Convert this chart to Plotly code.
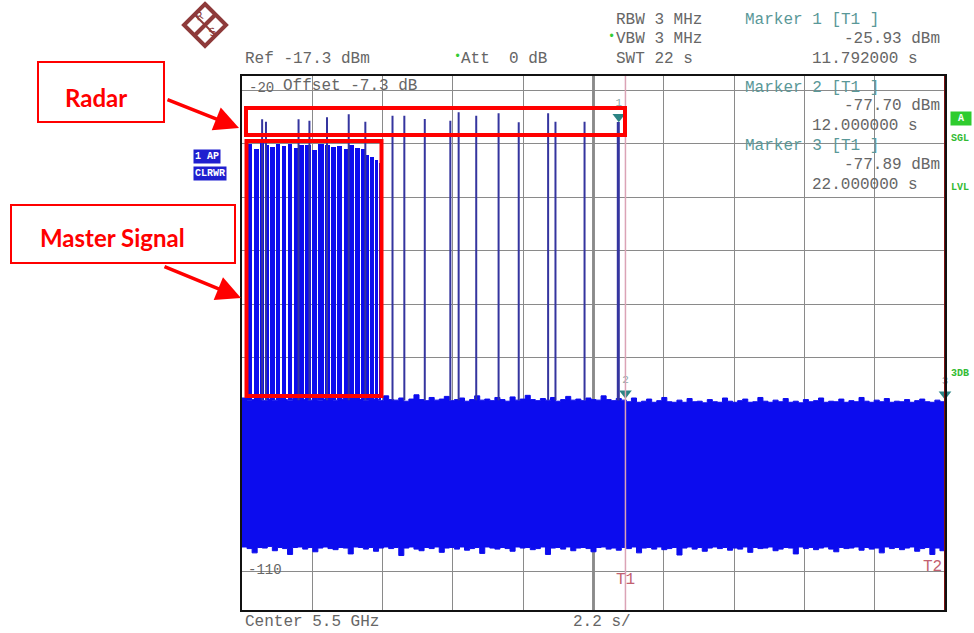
import numpy as np
import plotly.graph_objects as go

# ---------------- data ----------------
REF_LEVEL = -17.3          # dBm, top of screen
DB_RANGE = 100             # dB shown
SWEEP_TIME = 22.0          # s, zero span sweep

noise_top = [-77.6, -78.0, -77.9, -77.2, -78.1, -77.8, -78.0, -77.4, -77.9, -78.1,
             -77.7, -77.0, -77.9, -78.0, -77.5, -78.1, -77.8, -77.3, -78.0, -77.9,
             -77.1, -76.8, -77.6, -77.9, -78.0, -77.4, -77.8, -78.1, -77.2, -77.9,
             -78.0, -77.6, -78.2, -77.8, -77.0, -77.9, -78.1, -77.5, -78.0, -77.8,
             -77.3, -78.1, -77.9, -77.6, -78.2, -77.9, -77.2, -78.0, -77.8, -78.1,
             -77.5, -77.9, -78.2, -77.4, -78.0, -77.8, -77.1, -77.9, -78.1, -77.7,
             -78.0, -77.5, -78.2, -77.9, -77.3, -78.0, -77.8, -78.1, -77.6, -77.9,
             -78.0, -77.2, -77.9, -78.1, -77.7, -78.0,
             -78.3, -77.6, -78.4, -78.2, -77.8, -78.4, -78.1, -77.5, -78.3, -78.4,
             -78.0, -78.4, -77.7, -78.3, -78.2, -78.5, -77.9, -78.3, -78.4, -77.6,
             -78.2, -78.4, -78.1, -77.8, -78.4, -78.3, -77.5, -78.2, -78.4, -78.0,
             -78.3, -77.7, -78.4, -78.2, -78.5, -77.9, -78.3, -78.1, -77.6, -78.4,
             -78.2, -78.3, -77.8, -78.4, -78.1, -78.3, -77.5, -78.2, -78.4, -78.0,
             -78.3, -77.7, -78.4, -78.2, -78.3, -77.9, -78.4, -78.1, -77.8, -78.3,
             -78.4, -78.0, -78.3, -77.9]

noise_bottom = [-105.5, -105.8, -106.6, -105.6, -105.7, -105.4, -106.2, -105.6, -105.8, -106.9,
                -105.6, -105.5, -105.9, -105.6, -106.4, -105.7, -105.5, -105.8, -106.0, -105.6,
                -105.7, -106.8, -105.5, -105.6, -105.9, -105.6, -106.3, -105.7, -105.5, -105.8,
                -105.6, -107.1, -105.7, -105.5, -105.9, -106.2, -105.6, -105.8, -105.5, -106.5,
                -105.7, -105.6, -105.9, -105.5, -106.1, -105.8, -105.6, -106.7, -105.5, -105.7,
                -105.9, -105.6, -105.8, -106.3, -105.5, -105.7, -105.6, -106.0, -105.8, -105.5,
                -106.9, -105.7, -105.6, -105.9, -105.5, -106.2, -105.7, -105.6, -105.8, -106.4,
                -105.6, -105.5, -105.9, -105.7, -106.1, -105.6, -105.8, -105.5, -106.6, -105.7,
                -105.6, -105.9, -105.5, -106.0, -105.8, -105.6, -107.0, -105.7, -105.5, -105.9,
                -105.6, -106.3, -105.7, -105.5, -105.8, -105.6, -106.1, -105.7, -105.9, -105.5,
                -106.5, -105.6, -105.8, -105.7, -105.5, -106.2, -105.9, -105.6, -105.7, -106.8,
                -105.5, -105.8, -105.6, -106.0, -105.7, -105.5, -105.9, -106.4, -105.6, -105.8,
                -105.7, -105.5, -106.1, -105.6, -105.9, -105.7, -106.6, -105.5, -105.8, -105.6,
                -106.0, -105.7, -105.5, -106.3, -105.8, -105.6, -106.9, -105.7, -106.2, -107.3]

# radar pulses (time in s, peak level in dBm)
radar_times = [0.63, 0.75, 1.77, 2.11, 2.66, 3.34, 3.86, 4.71, 5.08, 5.72,
               6.52, 6.78, 7.33, 8.03, 8.66, 9.58, 9.81, 10.72, 11.76, 11.792]
radar_levels = [-25.41, -25.86, -25.41, -25.67, -25.04, -24.48, -25.86, -24.74, -24.74, -25.36,
                -25.67, -24.10, -24.74, -24.29, -25.97, -24.29, -25.86, -25.86, -25.93, -25.93]

# master signal bursts
master_start = 0.17
master_end = 4.36
master_gaps = [0.344, 0.551, 0.707, 0.864, 1.042, 1.221, 1.408, 1.596, 1.772, 1.950,
               2.169, 2.366, 2.576, 2.764, 2.952, 3.161, 3.336, 3.515, 3.703, 3.859,
               3.994, 4.141, 4.275]
master_levels = [-30.0, -31.0, -29.9, -30.2, -30.6, -30.1, -30.4, -30.0, -30.8, -30.3,
                 -30.2, -31.2, -30.1, -30.3, -30.6, -30.4, -31.0, -30.2, -30.7, -31.0,
                 -32.0, -32.4, -33.0, -33.5]

# markers
marker_names = ["1", "2", "3"]
marker_times = [11.792, 12.0, 22.0]
marker_levels = [-25.93, -77.70, -77.89]

# ---------------- geometry helpers ----------------
W, H = 974, 633
ML, MR, MT, MB = 242, 29, 76, 23
PW, PH = W - ML - MR, H - MT - MB


def px(x):
    return (x - ML) / PW


def py(y):
    return (H - MB - y) / PH


BLUE = "#0c0cee"
PULSE = "#35359f"
GRAY = "#666666"
TEAL = "#5a9898"
MONO = "Courier New, Liberation Mono, monospace"
RED = "#ff0000"

fig = go.Figure()

# noise floor band
t_noise = np.linspace(0, SWEEP_TIME, len(noise_top))
noise_base = -78.0
fig.add_trace(go.Scatter(x=t_noise, y=noise_bottom, mode="lines", line_shape="hv",
                         line=dict(color=BLUE, width=1), hoverinfo="skip"))
fig.add_trace(go.Scatter(x=t_noise, y=noise_top, mode="lines", fill="tonexty", line_shape="hv",
                         fillcolor=BLUE, line=dict(color=BLUE, width=1), hoverinfo="skip"))

# master signal bursts (bars between the gaps)
edges = [master_start] + master_gaps + [master_end]
gap_w = 0.035
b_start = [edges[i] + (gap_w / 2 if i > 0 else 0) for i in range(len(edges) - 1)]
b_end = [edges[i + 1] - (gap_w / 2 if i + 1 < len(edges) - 1 else 0) for i in range(len(edges) - 1)]
centers = [(a + b) / 2 for a, b in zip(b_start, b_end)]
widths = [b - a for a, b in zip(b_start, b_end)]
fig.add_trace(go.Bar(x=centers, y=[lv - noise_base for lv in master_levels], base=noise_base,
                     width=widths, marker=dict(color=BLUE, line=dict(width=0)),
                     hoverinfo="skip"))

# radar pulses
xs, ys = [], []
for t, lv in zip(radar_times, radar_levels):
    xs += [t, t, None]
    ys += [noise_base, lv, None]
fig.add_trace(go.Scatter(x=xs, y=ys, mode="lines", line=dict(color=PULSE, width=2),
                         hoverinfo="skip"))

# marker triangles
fig.add_trace(go.Scatter(x=marker_times, y=[lv + 1.0 for lv in marker_levels], mode="markers+text",
                         marker=dict(symbol="triangle-down", size=11, color="#2c8484"),
                         text=marker_names, textposition="top center",
                         textfont=dict(family=MONO, size=11, color="#8aa8a8"),
                         cliponaxis=False, hoverinfo="skip"))

shapes = []
# centre grid line
shapes.append(dict(type="line", xref="x", yref="paper", x0=SWEEP_TIME / 2, x1=SWEEP_TIME / 2,
                   y0=0, y1=1, line=dict(color="#222222", width=2), layer="below"))
# T1 line
shapes.append(dict(type="line", xref="x", yref="paper", x0=marker_times[1], x1=marker_times[1],
                   y0=0, y1=1, line=dict(color="#dba3b6", width=1.5), layer="above"))
# right frame (T2)
shapes.append(dict(type="line", xref="x", yref="paper", x0=SWEEP_TIME, x1=SWEEP_TIME,
                   y0=0, y1=1, line=dict(color="#7a1010", width=2), layer="above"))

# red highlight rectangles
shapes.append(dict(type="rect", xref="paper", yref="paper",
                   x0=px(246), x1=px(625), y0=py(108), y1=py(135),
                   line=dict(color=RED, width=4), layer="above"))
shapes.append(dict(type="rect", xref="paper", yref="paper",
                   x0=px(246.5), x1=px(381.5), y0=py(141), y1=py(396),
                   line=dict(color=RED, width=4), layer="above"))
# label boxes
shapes.append(dict(type="rect", xref="paper", yref="paper",
                   x0=px(38), x1=px(164), y0=py(62), y1=py(122),
                   line=dict(color=RED, width=2), fillcolor="white", layer="above"))
shapes.append(dict(type="rect", xref="paper", yref="paper",
                   x0=px(11), x1=px(235), y0=py(205), y1=py(263),
                   line=dict(color=RED, width=2), fillcolor="white", layer="above"))

# R&S logo
cx, cy, hs = 205, 25, 21
shapes.append(dict(type="path", xref="paper", yref="paper",
                   path=f"M {px(cx)} {py(cy - hs)} L {px(cx + hs)} {py(cy)} L {px(cx)} {py(cy + hs)} L {px(cx - hs)} {py(cy)} Z",
                   line=dict(color="#8e3a3a", width=4), fillcolor="white", layer="above"))
shapes.append(dict(type="line", xref="paper", yref="paper",
                   x0=px(cx + hs / 2), y0=py(cy - hs / 2), x1=px(cx - hs / 2), y1=py(cy + hs / 2),
                   line=dict(color="#8e3a3a", width=4), layer="above"))
shapes.append(dict(type="line", xref="paper", yref="paper",
                   x0=px(cx - hs / 2), y0=py(cy - hs / 2), x1=px(cx + hs / 2), y1=py(cy + hs / 2),
                   line=dict(color="#8e3a3a", width=2), layer="above"))

ann = []


def txt(x, y, s, color=GRAY, size=16, anchor="left", family=MONO, **kw):
    ann.append(dict(x=px(x), y=py(y), xref="paper", yref="paper", text=s, showarrow=False,
                    xanchor=anchor, yanchor="middle",
                    font=dict(family=family, size=size, color=color), **kw))


# header texts
txt(243, 59, "Ref -17.3 dBm")
txt(452, 57, "•", color="#33cc33", size=12)
txt(459, 59, "Att  0 dB")
txt(614, 20, "RBW 3 MHz")
txt(606, 37, "•", color="#33cc33", size=12)
txt(614, 39, "VBW 3 MHz")
txt(614, 59, "SWT 22 s")
txt(743, 20, "Marker 1 [T1 ]", color=TEAL)
txt(942, 39, "-25.93 dBm", anchor="right")
txt(920, 59, "11.792000 s", anchor="right")
# in-plot marker info
txt(743, 88, "Marker 2 [T1 ]", color=TEAL)
txt(942, 106, "-77.70 dBm", anchor="right")
txt(920, 126, "12.000000 s", anchor="right")
txt(743, 146, "Marker 3 [T1 ]", color=TEAL)
txt(942, 165, "-77.89 dBm", anchor="right")
txt(920, 185, "22.000000 s", anchor="right")
# grid labels
txt(247, 88, "-20", size=14)
txt(281, 86, "Offset -7.3 dB")
txt(246, 570, "-110", size=14)
txt(243, 622, "Center 5.5 GHz")
txt(571, 622, "2.2 s/")
txt(625, 580, "T1", color="#c26070", anchor="center")
txt(944, 567, "T2", color="#c26070", anchor="right")
# trace info boxes
txt(193, 156, "<b>1 AP</b>", color="white", size=10, bgcolor="#1f1fcf", borderpad=1)
txt(193, 173, "<b>CLRWR</b>", color="white", size=10, bgcolor="#1f1fcf", borderpad=1)
# right-side status
txt(950, 119, "<b> A </b>", color="white", size=10, bgcolor="#2ecc2e", borderpad=1)
txt(949, 139, "<b>SGL</b>", color="#33bb33", size=10)
txt(949, 188, "<b>LVL</b>", color="#33bb33", size=10)
txt(949, 373, "<b>3DB</b>", color="#33bb33", size=10)
# logo letters
txt(199, 17, "R", color="#8e3a3a", size=12, anchor="center", textangle=-20)
txt(212, 33, "S", color="#8e3a3a", size=12, anchor="center", textangle=-20)
# red labels
txt(96, 97, "<b>Radar</b>", color=RED, size=24, anchor="center", family="Lato, Liberation Sans, sans-serif")
txt(112, 238, "<b>Master Signal</b>", color=RED, size=24, anchor="center",
    family="Lato, Liberation Sans, sans-serif")

# arrows
for (tx, ty, ax, ay) in [(239, 128, -73, -29), (241, 298, -78, -32)]:
    ann.append(dict(x=px(tx), y=py(ty), xref="paper", yref="paper", ax=ax, ay=ay,
                    showarrow=True, arrowhead=2, arrowsize=1.4, arrowwidth=3.5,
                    arrowcolor=RED, text=""))

fig.update_layout(
    width=W, height=H,
    margin=dict(l=ML, r=MR, t=MT, b=MB),
    plot_bgcolor="white", paper_bgcolor="white",
    showlegend=False,
    shapes=shapes, annotations=ann,
    bargap=0,
    xaxis=dict(range=[0, SWEEP_TIME], dtick=SWEEP_TIME / 10, tick0=0, showgrid=True,
               gridcolor="#8a8a8a", gridwidth=1, showticklabels=False, ticks="",
               zeroline=False, showline=True, mirror=True, linecolor="#111111", linewidth=2),
    yaxis=dict(range=[REF_LEVEL - DB_RANGE, REF_LEVEL], dtick=10, tick0=-20, showgrid=True,
               gridcolor="#8a8a8a", gridwidth=1, showticklabels=False, ticks="",
               zeroline=False, showline=True, mirror=True, linecolor="#111111", linewidth=2),
)

fig.write_html("out.html", config={"displayModeBar": False},
               post_script="document.body.style.margin='0px';document.body.style.overflow='hidden';")
